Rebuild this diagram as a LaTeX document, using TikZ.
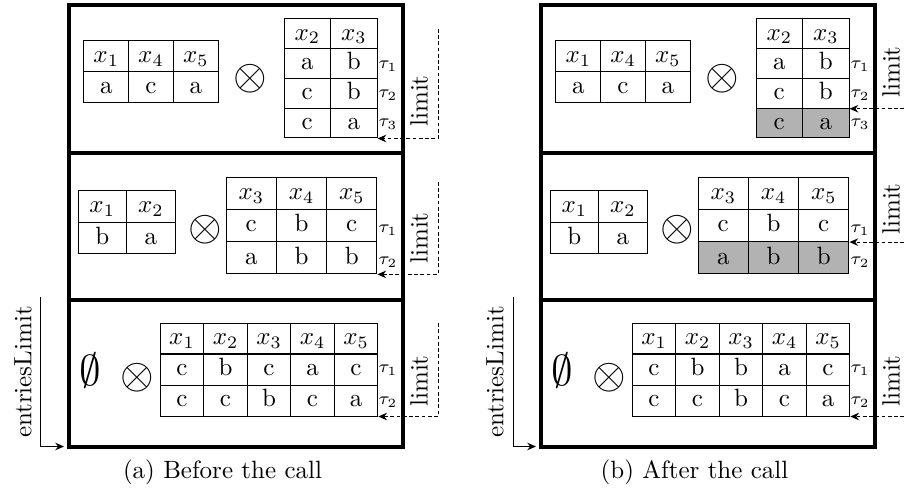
\documentclass[tikz,border=0pt]{standalone}
\usepackage{tikz}
\usetikzlibrary{arrows.meta, matrix, positioning}
\usepackage{amsmath}

\begin{document}
\begin{tikzpicture}[x=0.4pt, y=0.4pt]
\tikzstyle{every node}+=[inner sep=0pt]
\tikzstyle{panel}=[draw, line width=1.6pt, outer sep=0pt, minimum width=133.6pt]
\tikzstyle{tbl}=[matrix of nodes, column sep=-0.4pt, row sep=-0.4pt, nodes={draw, anchor=center, text height=7pt, text depth=2pt}]
\tikzstyle{tau}=[font=\scriptsize]
\tikzstyle{limitline}=[dash pattern=on 1.5pt off 1pt, -{Stealth[length=3.5pt,width=3pt]}]
\tikzstyle{hit}=[nodes={fill=black!30}]
\useasboundingbox (0,0) rectangle (904,-491);
% (a) before the call
\node [panel, minimum height=59.2pt] (pa1) at (236,-79.5) {};
\node [panel, minimum height=58.6pt] (pa2) at (236,-226.75) {};
\node [panel, minimum height=58.6pt] (pa3) at (236,-373.25) {};
\matrix (la1) [tbl, nodes={minimum width=17.9pt, minimum height=12.4pt}] at (151,-72) {
$x_1$ & $x_4$ & $x_5$ \\ a & c & a \\};
\draw (250,-79) node (oa1) {\LARGE $\otimes$};
\matrix (ra1) [tbl, nodes={minimum width=18.6pt, minimum height=11.9pt}] at (330.5,-78.5) {
$x_2$ & $x_3$ \\ a & b \\ c & b \\ c & a \\};
\draw (388,-66) node [tau] (ta11) {$\tau_1$};
\draw (388,-95) node [tau] (ta12) {$\tau_2$};
\draw (388,-124) node [tau] (ta13) {$\tau_3$};
\matrix (la2) [tbl, nodes={minimum width=19.4pt, minimum height=12.6pt}] at (126.5,-222.5) {
$x_1$ & $x_2$ \\ b & a \\};
\draw (205,-230) node (oa2) {\LARGE $\otimes$};
\matrix (ra2) [tbl, nodes={minimum width=20.1pt, minimum height=12.9pt}] at (301.5,-225.5) {
$x_3$ & $x_4$ & $x_5$ \\ c & b & c \\ a & b & b \\};
\draw (388,-230) node [tau] (ta21) {$\tau_1$};
\draw (388,-262) node [tau] (ta22) {$\tau_2$};
\draw (90,-370) node (ea3) {\LARGE $\emptyset$};
\draw (137,-378) node (oa3) {\LARGE $\otimes$};
\matrix (ta3) [tbl, nodes={minimum width=17.4pt, minimum height=12.4pt}] at (269,-369.5) {
$x_1$ & $x_2$ & $x_3$ & $x_4$ & $x_5$ \\ c & b & c & a & c \\ c & c & b & c & a \\};
\draw (388,-370) node [tau] (ta31) {$\tau_1$};
\draw (388,-402) node [tau] (ta32) {$\tau_2$};
\draw (419,-101) node [rotate=90] (lla1) {limit};
\draw (419,-238) node [rotate=90] (lla2) {limit};
\draw (419,-381) node [rotate=90] (lla3) {limit};
\coordinate (lima1) at (438,-29);
\coordinate (lima2) at (438,-182);
\coordinate (lima3) at (438,-323);
\draw [limitline] (lima1) |- (ra1-4-2.south east);
\draw [limitline] (lima2) |- (ra2-3-3.south east);
\draw [limitline] (lima3) |- (ta3-3-5.south east);
\draw (23,-372) node [rotate=90] (ela) {entriesLimit};
\coordinate (elta) at (40,-297);
\draw [-{Stealth[length=3.5pt,width=3pt]}, shorten >=2pt] (elta) |- (pa3.south west);
\draw (222.5,-472) node (capa) {(a) Before the call};
% (b) after the call
\node [panel, minimum height=59.2pt] (pb1) at (708,-79.5) {};
\node [panel, minimum height=58.6pt] (pb2) at (708,-226.75) {};
\node [panel, minimum height=58.6pt] (pb3) at (708,-373.25) {};
\matrix (lb1) [tbl, nodes={minimum width=17.9pt, minimum height=12.4pt}] at (623,-72) {
$x_1$ & $x_4$ & $x_5$ \\ a & c & a \\};
\draw (722,-79) node (ob1) {\LARGE $\otimes$};
\matrix (rb1) [tbl, nodes={minimum width=18.6pt, minimum height=11.9pt}, row 4/.style={hit}] at (802.5,-78.5) {
$x_2$ & $x_3$ \\ a & b \\ c & b \\ c & a \\};
\draw (860,-66) node [tau] (tb11) {$\tau_1$};
\draw (860,-95) node [tau] (tb12) {$\tau_2$};
\draw (860,-124) node [tau] (tb13) {$\tau_3$};
\matrix (lb2) [tbl, nodes={minimum width=19.4pt, minimum height=12.6pt}] at (598.5,-222.5) {
$x_1$ & $x_2$ \\ b & a \\};
\draw (677,-230) node (ob2) {\LARGE $\otimes$};
\matrix (rb2) [tbl, nodes={minimum width=20.1pt, minimum height=12.9pt}, row 3/.style={hit}] at (773.5,-225.5) {
$x_3$ & $x_4$ & $x_5$ \\ c & b & c \\ a & b & b \\};
\draw (860,-230) node [tau] (tb21) {$\tau_1$};
\draw (860,-262) node [tau] (tb22) {$\tau_2$};
\draw (562,-370) node (eb3) {\LARGE $\emptyset$};
\draw (609,-378) node (ob3) {\LARGE $\otimes$};
\matrix (tb3) [tbl, nodes={minimum width=17.4pt, minimum height=12.4pt}] at (741,-369.5) {
$x_1$ & $x_2$ & $x_3$ & $x_4$ & $x_5$ \\ c & b & b & a & c \\ c & c & b & c & a \\};
\draw (860,-370) node [tau] (tb31) {$\tau_1$};
\draw (860,-402) node [tau] (tb32) {$\tau_2$};
\draw (891,-72) node [rotate=90] (llb1) {limit};
\draw (891,-209) node [rotate=90] (llb2) {limit};
\draw (891,-381) node [rotate=90] (llb3) {limit};
\coordinate (rimb) at (904,0);
\draw [limitline] (rimb |- rb1-3-2.south east) -- (rb1-3-2.south east);
\draw [limitline] (rimb |- rb2-2-3.south east) -- (rb2-2-3.south east);
\draw [limitline] (rimb |- tb3-3-5.south east) -- (tb3-3-5.south east);
\draw (495,-372) node [rotate=90] (elb) {entriesLimit};
\coordinate (eltb) at (513,-297);
\draw [-{Stealth[length=3.5pt,width=3pt]}, shorten >=2pt] (eltb) |- (pb3.south west);
\draw (694.5,-472) node (capb) {(b) After the call};
\end{tikzpicture}
\end{document}
